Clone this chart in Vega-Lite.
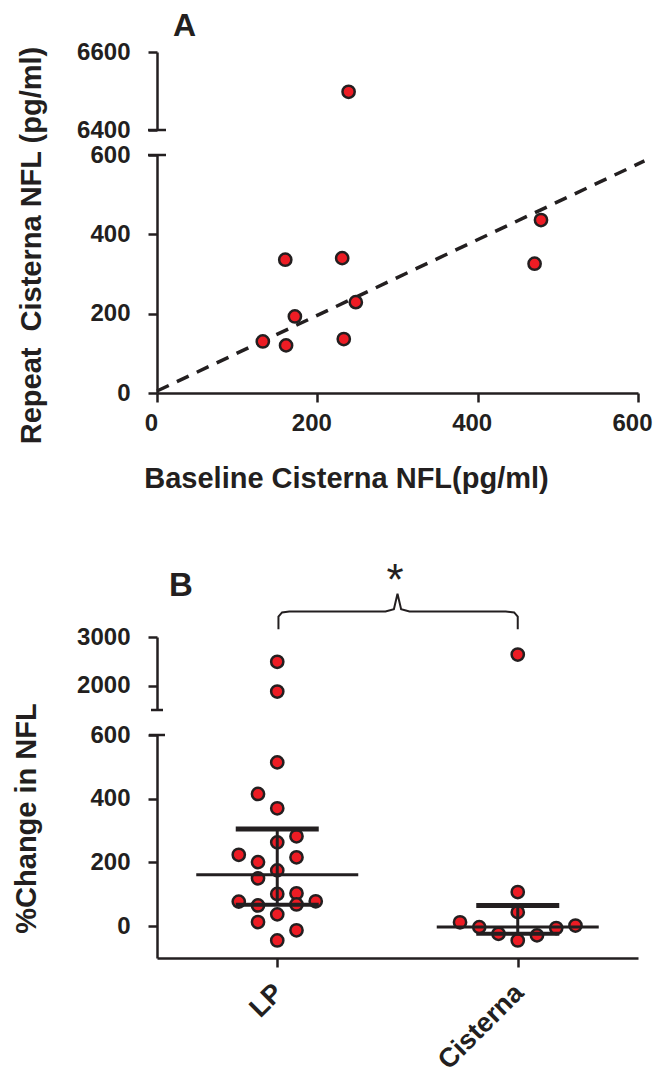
{
  "$schema": "https://vega.github.io/schema/vega-lite/v6.json",
  "autosize": {"type": "none"},
  "padding": {"left": 157, "top": 52, "right": 497, "bottom": 1024},
  "background": "white",
  "bounds": "flush",
  "spacing": 25,
  "config": {
    "view": {"stroke": null},
    "font": "Liberation Sans",
    "axis": {
      "grid": false,
      "domainColor": "#231f20",
      "domainWidth": 2.5,
      "tickColor": "#231f20",
      "tickWidth": 2.5,
      "tickSize": 9,
      "labelFont": "Liberation Sans",
      "labelFontWeight": "bold",
      "labelFontSize": 24,
      "labelColor": "#231f20",
      "labelPadding": 18,
      "labelFlush": false,
      "labelOverlap": false,
      "titleFont": "Liberation Sans",
      "titleFontWeight": "bold",
      "titleFontSize": 29,
      "titleColor": "#231f20"
    }
  },
  "datasets": {
    "a": [
      {"base": 160, "rep": 336},
      {"base": 231, "rep": 340},
      {"base": 479, "rep": 436},
      {"base": 471, "rep": 326},
      {"base": 248, "rep": 229},
      {"base": 172, "rep": 193},
      {"base": 132, "rep": 130},
      {"base": 161, "rep": 120},
      {"base": 233, "rep": 136},
      {"base": 239, "rep": 6498}
    ],
    "fit": [
      {"base": 0, "rep": 5},
      {"base": 608, "rep": 585}
    ],
    "b": [
      {"group": "LP", "pos": 1, "v": 514},
      {"group": "LP", "pos": 0.84, "v": 415},
      {"group": "LP", "pos": 1, "v": 370},
      {"group": "LP", "pos": 1.16, "v": 282},
      {"group": "LP", "pos": 1, "v": 263},
      {"group": "LP", "pos": 0.68, "v": 224},
      {"group": "LP", "pos": 1.16, "v": 216},
      {"group": "LP", "pos": 0.84, "v": 201},
      {"group": "LP", "pos": 1, "v": 175},
      {"group": "LP", "pos": 0.84, "v": 150},
      {"group": "LP", "pos": 1, "v": 101},
      {"group": "LP", "pos": 1.16, "v": 103},
      {"group": "LP", "pos": 0.68, "v": 77},
      {"group": "LP", "pos": 1.32, "v": 78},
      {"group": "LP", "pos": 0.84, "v": 65},
      {"group": "LP", "pos": 1.16, "v": 68},
      {"group": "LP", "pos": 1, "v": 37},
      {"group": "LP", "pos": 0.84, "v": 13},
      {"group": "LP", "pos": 1.16, "v": -13},
      {"group": "LP", "pos": 1, "v": -45},
      {"group": "LP", "pos": 1, "v": 2490},
      {"group": "LP", "pos": 1, "v": 1880},
      {"group": "Cisterna", "pos": 3, "v": 107},
      {"group": "Cisterna", "pos": 3, "v": 44},
      {"group": "Cisterna", "pos": 2.52, "v": 12},
      {"group": "Cisterna", "pos": 2.68, "v": -3},
      {"group": "Cisterna", "pos": 2.84, "v": -24},
      {"group": "Cisterna", "pos": 3, "v": -45},
      {"group": "Cisterna", "pos": 3.16, "v": -29},
      {"group": "Cisterna", "pos": 3.32, "v": -6},
      {"group": "Cisterna", "pos": 3.48, "v": 2},
      {"group": "Cisterna", "pos": 3, "v": 2640}
    ],
    "bstat": [
      {"group": "LP", "pos": 1, "med": 161, "q1": 67, "q3": 305},
      {"group": "Cisterna", "pos": 3, "med": -3, "q1": -24, "q3": 65}
    ],
    "brace": [
      {"i": 0, "x": 1.01, "y": 3160},
      {"i": 1, "x": 1.01, "y": 3420},
      {"i": 2, "x": 1.04, "y": 3505},
      {"i": 3, "x": 1.1, "y": 3524},
      {"i": 4, "x": 1.9, "y": 3524},
      {"i": 5, "x": 1.97, "y": 3570},
      {"i": 6, "x": 2.0, "y": 3890},
      {"i": 7, "x": 2.03, "y": 3570},
      {"i": 8, "x": 2.1, "y": 3524},
      {"i": 9, "x": 2.9, "y": 3524},
      {"i": 10, "x": 2.97, "y": 3505},
      {"i": 11, "x": 3.0, "y": 3420},
      {"i": 12, "x": 3.0, "y": 3160}
    ]
  },
  "vconcat": [
    {
      "width": 481,
      "height": 78,
      "layer": [
        {
          "data": {"name": "a"},
          "transform": [{"filter": "datum.rep > 1000"}],
          "mark": {"type": "circle", "size": 150, "fill": "#ed1c24", "stroke": "#231f20", "strokeWidth": 2.5, "opacity": 1},
          "encoding": {
            "x": {"field": "base", "type": "quantitative", "scale": {"domain": [0, 600], "nice": false}, "axis": null},
            "y": {"field": "rep", "type": "quantitative", "scale": {"domain": [6400, 6600], "nice": false, "zero": false}, "axis": {"values": [6400, 6600], "format": "d", "title": null}}
          }
        },
        {
          "data": {"values": [{"label": "A", "x": 20, "y": 6640}]},
          "mark": {"type": "text", "fontSize": 32, "fontWeight": "bold", "align": "left", "baseline": "alphabetic", "color": "#231f20"},
          "encoding": {
            "x": {"field": "x", "type": "quantitative"},
            "y": {"field": "y", "type": "quantitative"},
            "text": {"field": "label"}
          }
        },
        {
          "data": {"values": [{"x": 0, "y": 6400}]},
          "mark": {"type": "tick", "orient": "horizontal", "size": 18, "thickness": 2.5, "color": "#231f20", "opacity": 1},
          "encoding": {
            "x": {"field": "x", "type": "quantitative"},
            "y": {"field": "y", "type": "quantitative"}
          }
        }
      ]
    },
    {
      "width": 481,
      "height": 238,
      "layer": [
        {
          "data": {"name": "fit"},
          "mark": {"type": "line", "color": "#231f20", "strokeWidth": 3.5, "strokeDash": [13, 9]},
          "encoding": {
            "x": {"field": "base", "type": "quantitative", "scale": {"domain": [0, 600], "nice": false},
                  "axis": {"values": [0, 200, 400, 600], "format": "d", "labelPadding": 9, "labelOffset": -6, "title": "Baseline Cisterna NFL(pg/ml)", "titleX": 189, "titleY": 94, "titleBaseline": "alphabetic"}},
            "y": {"field": "rep", "type": "quantitative", "scale": {"domain": [0, 600], "nice": false},
                  "axis": {"values": [0, 200, 400, 600], "format": "d", "title": "Repeat\u00a0 Cisterna NFL (pg/ml)", "titleX": -117, "titleY": 90, "titleBaseline": "alphabetic"}}
          }
        },
        {
          "data": {"name": "a"},
          "transform": [{"filter": "datum.rep <= 1000"}],
          "mark": {"type": "circle", "size": 150, "fill": "#ed1c24", "stroke": "#231f20", "strokeWidth": 2.5, "opacity": 1},
          "encoding": {
            "x": {"field": "base", "type": "quantitative"},
            "y": {"field": "rep", "type": "quantitative"}
          }
        },
        {
          "data": {"values": [{"x": 0, "y": 600}]},
          "mark": {"type": "tick", "orient": "horizontal", "size": 18, "thickness": 2.5, "color": "#231f20", "opacity": 1},
          "encoding": {
            "x": {"field": "x", "type": "quantitative"},
            "y": {"field": "y", "type": "quantitative"}
          }
        }
      ]
    },
    {
      "width": 481,
      "height": 194,
      "data": {"values": []},
      "mark": "point"
    },
    {
      "width": 481,
      "height": 73,
      "layer": [
        {
          "data": {"name": "b"},
          "transform": [{"filter": "datum.v > 1000"}],
          "mark": {"type": "circle", "size": 150, "fill": "#ed1c24", "stroke": "#231f20", "strokeWidth": 2.5, "opacity": 1},
          "encoding": {
            "x": {"field": "pos", "type": "quantitative", "scale": {"domain": [0, 4], "nice": false}, "axis": null},
            "y": {"field": "v", "type": "quantitative", "scale": {"domain": [1500, 3000], "nice": false, "zero": false}, "axis": {"values": [2000, 3000], "format": "d", "title": null}}
          }
        },
        {
          "data": {"name": "brace"},
          "mark": {"type": "line", "color": "#231f20", "strokeWidth": 2},
          "encoding": {
            "x": {"field": "x", "type": "quantitative"},
            "y": {"field": "y", "type": "quantitative"},
            "order": {"field": "i", "type": "quantitative"}
          }
        },
        {
          "data": {"values": [{"label": "B", "x": 0.1, "y": 3851}]},
          "mark": {"type": "text", "fontSize": 33, "fontWeight": "bold", "align": "left", "baseline": "alphabetic", "color": "#231f20"},
          "encoding": {
            "x": {"field": "x", "type": "quantitative"},
            "y": {"field": "y", "type": "quantitative"},
            "text": {"field": "label"}
          }
        },
        {
          "data": {"values": [{"label": "*", "x": 1.98, "y": 3871}]},
          "mark": {"type": "text", "fontSize": 44, "fontWeight": "normal", "align": "center", "baseline": "alphabetic", "color": "#231f20"},
          "encoding": {
            "x": {"field": "x", "type": "quantitative"},
            "y": {"field": "y", "type": "quantitative"},
            "text": {"field": "label"}
          }
        },
        {
          "data": {"values": [{"x": 0, "y": 1500}]},
          "mark": {"type": "tick", "orient": "horizontal", "size": 12, "thickness": 2.5, "color": "#231f20", "opacity": 1},
          "encoding": {
            "x": {"field": "x", "type": "quantitative"},
            "y": {"field": "y", "type": "quantitative"}
          }
        }
      ]
    },
    {
      "width": 481,
      "height": 223,
      "layer": [
        {
          "mark": {"type": "rule", "color": "#231f20", "strokeWidth": 2, "strokeDash": [8, 7]},
          "encoding": {
            "y": {"datum": 0, "type": "quantitative"}
          }
        },
        {
          "data": {"name": "b"},
          "transform": [{"filter": "datum.v <= 1000"}],
          "mark": {"type": "circle", "size": 150, "fill": "#ed1c24", "stroke": "#231f20", "strokeWidth": 2.5, "opacity": 1},
          "encoding": {
            "x": {"field": "pos", "type": "quantitative", "scale": {"domain": [0, 4], "nice": false},
                  "axis": {"values": [1, 3], "labelExpr": "datum.value === 1 ? 'LP' : 'Cisterna'", "labelAngle": -45, "labelFontSize": 27, "labelPadding": 12, "labelOffset": -8, "title": null}},
            "y": {"field": "v", "type": "quantitative", "scale": {"domain": [-100, 600], "nice": false},
                  "axis": {"values": [0, 200, 400, 600], "format": "d", "title": "%Change in NFL", "titleX": -122, "titleY": 83, "titleBaseline": "alphabetic"}}
          }
        },
        {
          "data": {"name": "bstat"},
          "mark": {"type": "rule", "color": "#231f20", "strokeWidth": 3},
          "encoding": {
            "x": {"field": "pos", "type": "quantitative"},
            "y": {"field": "q1", "type": "quantitative"},
            "y2": {"field": "q3"}
          }
        },
        {
          "data": {"name": "bstat"},
          "mark": {"type": "tick", "orient": "horizontal", "size": 162, "thickness": 3, "color": "#231f20", "opacity": 1},
          "encoding": {
            "x": {"field": "pos", "type": "quantitative"},
            "y": {"field": "med", "type": "quantitative"}
          }
        },
        {
          "data": {"name": "bstat"},
          "mark": {"type": "tick", "orient": "horizontal", "size": 83, "thickness": 5, "color": "#231f20", "opacity": 1},
          "encoding": {
            "x": {"field": "pos", "type": "quantitative"},
            "y": {"field": "q3", "type": "quantitative"}
          }
        },
        {
          "data": {"name": "bstat"},
          "mark": {"type": "tick", "orient": "horizontal", "size": 83, "thickness": 4, "color": "#231f20", "opacity": 1},
          "encoding": {
            "x": {"field": "pos", "type": "quantitative"},
            "y": {"field": "q1", "type": "quantitative"}
          }
        },
        {
          "data": {"values": [{"x": 0, "y": 600}]},
          "mark": {"type": "tick", "orient": "horizontal", "size": 16, "thickness": 2.5, "color": "#231f20", "opacity": 1},
          "encoding": {
            "x": {"field": "x", "type": "quantitative"},
            "y": {"field": "y", "type": "quantitative"}
          }
        }
      ]
    }
  ]
}
